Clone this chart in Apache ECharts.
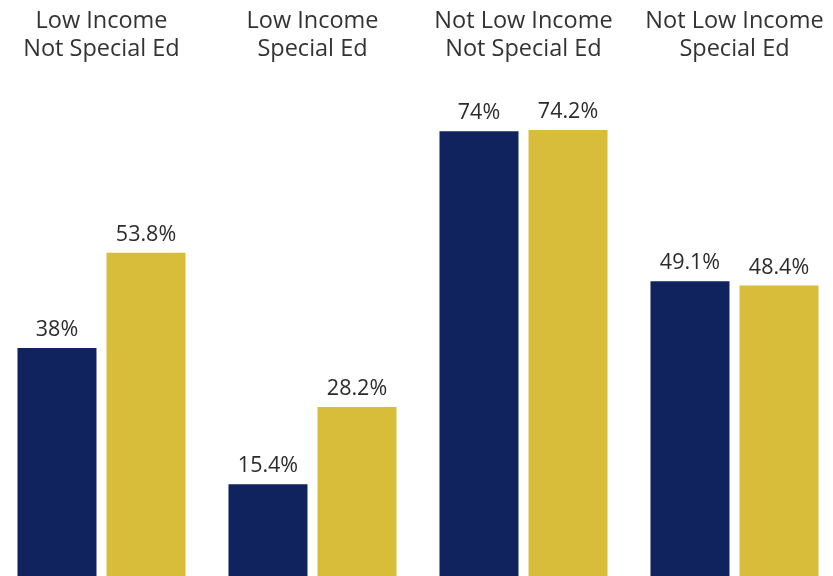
<!DOCTYPE html>
<html>
<head>
<meta charset="utf-8">
<script src="https://cdn.jsdelivr.net/npm/echarts@6/dist/echarts.min.js"></script>
<style>html,body{margin:0;padding:0;background:#fff}#c{width:833px;height:576px}</style>
</head>
<body>
<div id="c"></div>
<script>
const categories = ["Low Income\nNot Special Ed", "Low Income\nSpecial Ed", "Not Low Income\nNot Special Ed", "Not Low Income\nSpecial Ed"];
const seriesA = [38, 15.4, 74, 49.1];
const seriesB = [53.8, 28.2, 74.2, 48.4];
const seriesNames = ["Series A", "Series B"];

const chart = echarts.init(document.getElementById('c'));
const labelStyle = {
  show: true, position: 'top', distance: 7,
  fontFamily: 'Open Sans', fontSize: 21.5, color: '#2b2b2b',
  formatter: p => p.value + '%'
};
chart.setOption({
  animation: false,
  grid: { left: -4, width: 844, top: 95, bottom: -1, outerBoundsMode: 'none', containLabel: false },
  xAxis: {
    type: 'category', data: categories, position: 'top',
    axisLine: { show: false }, axisTick: { show: false },
    axisLabel: { fontFamily: 'Open Sans', fontSize: 23.5, lineHeight: 28, color: '#333', margin: 32, interval: 0 }
  },
  yAxis: { type: 'value', min: 0, max: 80, show: false },
  series: [
    { name: seriesNames[0], type: 'bar', data: seriesA, barWidth: 79, barGap: '12.7%',
      itemStyle: { color: '#10235e' }, label: labelStyle },
    { name: seriesNames[1], type: 'bar', data: seriesB, barWidth: 79,
      itemStyle: { color: '#d8bd3a' }, label: labelStyle }
  ]
});
</script>
</body>
</html>
